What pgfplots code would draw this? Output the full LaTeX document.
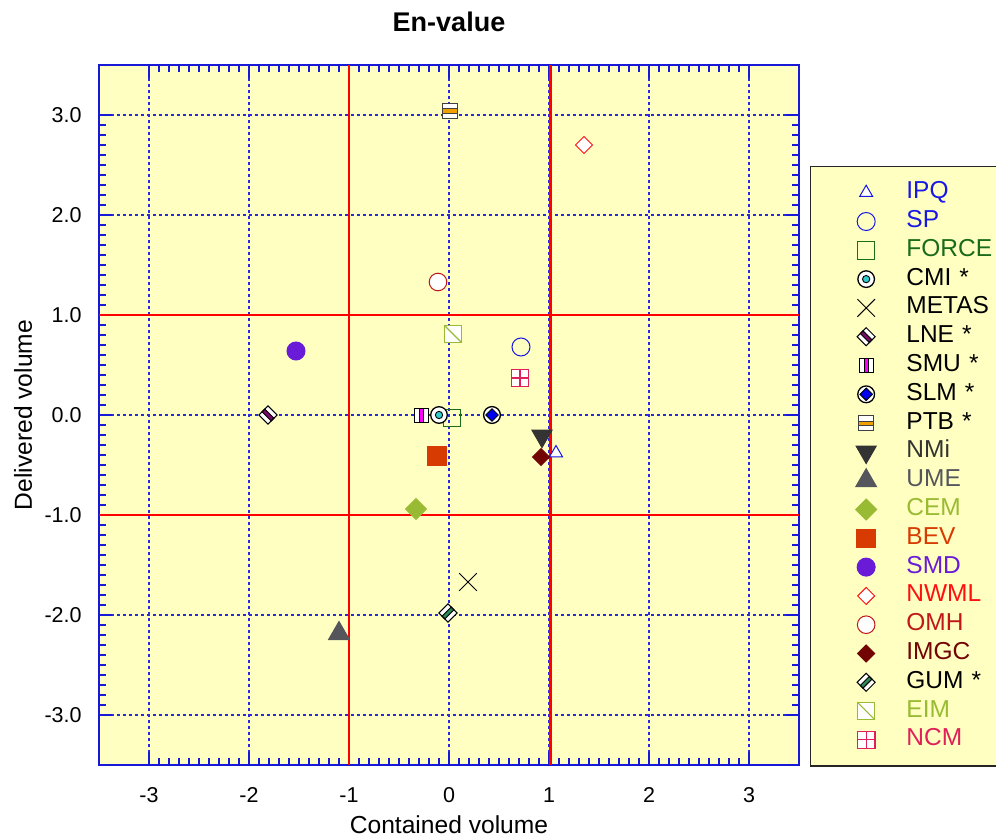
\documentclass[border=0pt]{standalone}
\usepackage{pgfplots}
\pgfplotsset{compat=1.18}
\usepackage{fontspec}
\setmainfont{Liberation Sans}
\definecolor{bgyellow}{HTML}{FFFFC2}
\definecolor{axisblue}{HTML}{1818D8}
\definecolor{gridblue}{HTML}{2828E0}
\definecolor{cIPQ}{HTML}{1818E6}
\definecolor{cFORCE}{HTML}{1A6B1A}
\definecolor{cNMi}{HTML}{333333}
\definecolor{cUME}{HTML}{55565C}
\definecolor{cCEM}{HTML}{99BB33}
\definecolor{cBEV}{HTML}{D83B01}
\definecolor{cSMD}{HTML}{6A1BD8}
\definecolor{cNWML}{HTML}{FF1010}
\definecolor{cOMH}{HTML}{C01818}
\definecolor{cIMGC}{HTML}{720404}
\definecolor{cNCM}{HTML}{E0205A}
\definecolor{cCMIdot}{HTML}{33CCCC}
\definecolor{cLNE}{HTML}{7A0A6A}
\definecolor{cSMU}{HTML}{FF00FF}
\definecolor{cSLM}{HTML}{0000F0}
\definecolor{cPTB}{HTML}{F0A000}
\definecolor{cGUM}{HTML}{2E8B57}

\pgfdeclareplotmark{cmi}{%
  \pgfsetlinewidth{0.65pt}\pgfsetstrokecolor{black}%
  \pgfpathcircle{\pgfpointorigin}{\pgfplotmarksize}%
  \pgfsetfillcolor{white}\pgfusepathqfillstroke
  \pgfsetlinewidth{0.45pt}%
  \pgfpathcircle{\pgfpointorigin}{0.44\pgfplotmarksize}%
  \pgfsetfillcolor{cCMIdot}\pgfusepathqfillstroke}
\pgfdeclareplotmark{slm}{%
  \pgfsetlinewidth{0.65pt}\pgfsetstrokecolor{black}%
  \pgfpathcircle{\pgfpointorigin}{\pgfplotmarksize}%
  \pgfsetfillcolor{white}\pgfusepathqfillstroke
  \pgfsetlinewidth{0.5pt}%
  \pgfpathmoveto{\pgfqpoint{0pt}{0.74\pgfplotmarksize}}%
  \pgfpathlineto{\pgfqpoint{0.74\pgfplotmarksize}{0pt}}%
  \pgfpathlineto{\pgfqpoint{0pt}{-0.74\pgfplotmarksize}}%
  \pgfpathlineto{\pgfqpoint{-0.74\pgfplotmarksize}{0pt}}%
  \pgfpathclose
  \pgfsetfillcolor{cSLM}\pgfusepathqfillstroke}
\pgfdeclareplotmark{smu}{%
  \pgfsetlinewidth{0.5pt}\pgfsetstrokecolor{black}%
  \pgfpathrectanglecorners{\pgfqpoint{-\pgfplotmarksize}{-\pgfplotmarksize}}{\pgfqpoint{\pgfplotmarksize}{\pgfplotmarksize}}%
  \pgfsetfillcolor{white}\pgfusepathqfill
  \pgfpathrectanglecorners{\pgfqpoint{-0.25\pgfplotmarksize}{-\pgfplotmarksize}}{\pgfqpoint{0.3\pgfplotmarksize}{\pgfplotmarksize}}%
  \pgfsetfillcolor{cSMU}\pgfusepathqfillstroke
  \pgfpathrectanglecorners{\pgfqpoint{-\pgfplotmarksize}{-\pgfplotmarksize}}{\pgfqpoint{\pgfplotmarksize}{\pgfplotmarksize}}%
  \pgfusepathqstroke}
\pgfdeclareplotmark{lne}{%
  \pgftransformrotate{45}%
  \pgfsetlinewidth{0.5pt}\pgfsetstrokecolor{black}%
  \pgfpathrectanglecorners{\pgfqpoint{-\pgfplotmarksize}{-\pgfplotmarksize}}{\pgfqpoint{\pgfplotmarksize}{\pgfplotmarksize}}%
  \pgfsetfillcolor{white}\pgfusepathqfill
  \pgfpathrectanglecorners{\pgfqpoint{-0.3\pgfplotmarksize}{-\pgfplotmarksize}}{\pgfqpoint{0.3\pgfplotmarksize}{\pgfplotmarksize}}%
  \pgfsetfillcolor{cLNE}\pgfusepathqfillstroke
  \pgfpathrectanglecorners{\pgfqpoint{-\pgfplotmarksize}{-\pgfplotmarksize}}{\pgfqpoint{\pgfplotmarksize}{\pgfplotmarksize}}%
  \pgfusepathqstroke}
\pgfdeclareplotmark{gum}{%
  \pgftransformrotate{-45}%
  \pgfsetlinewidth{0.5pt}\pgfsetstrokecolor{black}%
  \pgfpathrectanglecorners{\pgfqpoint{-\pgfplotmarksize}{-\pgfplotmarksize}}{\pgfqpoint{\pgfplotmarksize}{\pgfplotmarksize}}%
  \pgfsetfillcolor{white}\pgfusepathqfill
  \pgfpathrectanglecorners{\pgfqpoint{-0.3\pgfplotmarksize}{-\pgfplotmarksize}}{\pgfqpoint{0.3\pgfplotmarksize}{\pgfplotmarksize}}%
  \pgfsetfillcolor{cGUM}\pgfusepathqfillstroke
  \pgfpathrectanglecorners{\pgfqpoint{-\pgfplotmarksize}{-\pgfplotmarksize}}{\pgfqpoint{\pgfplotmarksize}{\pgfplotmarksize}}%
  \pgfusepathqstroke}
\pgfdeclareplotmark{ptb}{%
  \pgfsetlinewidth{0.5pt}\pgfsetstrokecolor{black!75}%
  \pgfpathrectanglecorners{\pgfqpoint{-\pgfplotmarksize}{-\pgfplotmarksize}}{\pgfqpoint{\pgfplotmarksize}{\pgfplotmarksize}}%
  \pgfsetfillcolor{white}\pgfusepathqfill
  \pgfpathrectanglecorners{\pgfqpoint{-\pgfplotmarksize}{-0.28\pgfplotmarksize}}{\pgfqpoint{\pgfplotmarksize}{0.28\pgfplotmarksize}}%
  \pgfsetfillcolor{cPTB}\pgfusepathqfillstroke
  \pgfpathrectanglecorners{\pgfqpoint{-\pgfplotmarksize}{-\pgfplotmarksize}}{\pgfqpoint{\pgfplotmarksize}{\pgfplotmarksize}}%
  \pgfusepathqstroke}
\pgfdeclareplotmark{eim}{%
  \pgfsetlinewidth{0.55pt}\pgfsetstrokecolor{cCEM}%
  \pgfpathrectanglecorners{\pgfqpoint{-\pgfplotmarksize}{-\pgfplotmarksize}}{\pgfqpoint{\pgfplotmarksize}{\pgfplotmarksize}}%
  \pgfsetfillcolor{white}\pgfusepathqfillstroke
  \pgfpathmoveto{\pgfqpoint{-\pgfplotmarksize}{\pgfplotmarksize}}%
  \pgfpathlineto{\pgfqpoint{\pgfplotmarksize}{-\pgfplotmarksize}}%
  \pgfusepathqstroke}
\pgfdeclareplotmark{ncm}{%
  \pgfsetlinewidth{0.55pt}\pgfsetstrokecolor{cNCM}%
  \pgfpathrectanglecorners{\pgfqpoint{-\pgfplotmarksize}{-\pgfplotmarksize}}{\pgfqpoint{\pgfplotmarksize}{\pgfplotmarksize}}%
  \pgfsetfillcolor{white}\pgfusepathqfillstroke
  \pgfpathmoveto{\pgfqpoint{0pt}{\pgfplotmarksize}}%
  \pgfpathlineto{\pgfqpoint{0pt}{-\pgfplotmarksize}}%
  \pgfpathmoveto{\pgfqpoint{-\pgfplotmarksize}{0pt}}%
  \pgfpathlineto{\pgfqpoint{\pgfplotmarksize}{0pt}}%
  \pgfusepathqstroke}

\begin{document}
\begin{tikzpicture}
\path[use as bounding box] (-49.5pt,-35.5pt) rectangle (448.5pt,382.5pt);
\begin{axis}[
  at={(0,0)}, anchor=south west,
  scale only axis, width=350pt, height=350pt,
  xmin=-3.5, xmax=3.5, ymin=-3.5, ymax=3.5,
  axis background/.style={fill=bgyellow},
  axis line style={draw=axisblue, line width=0.8pt},
  xtick={-3,-2,-1,0,1,2,3}, ytick={-3,-2,-1,0,1,2,3},
  xticklabels={-3,-2,-1,0,1,2,3},
  yticklabels={-3.0,-2.0,-1.0,0.0,1.0,2.0,3.0},
  minor x tick num=9, minor y tick num=9,
  tick align=inside,
  xtick pos=both, ytick pos=both,
  major tick length=6.5pt, minor tick length=3.5pt,
  every tick/.style={draw=axisblue, line width=0.7pt},
  grid=major,
  grid style={color=gridblue},
  major grid style={color=gridblue, line width=0.55pt, dash pattern=on 1.5pt off 1.5pt},
  tick label style={font=\fontsize{10.75}{12}\selectfont, text=black},
  xticklabel style={anchor=base, inner sep=0pt, yshift=-18.5pt},
  yticklabel style={anchor=east, inner sep=0pt, xshift=-8.5pt},
  title={En-value},
  every axis title/.style={at={(0.5,1)}, anchor=base, yshift=16.5pt, font=\bfseries\fontsize{13.5}{15}\selectfont},
  xlabel={Contained volume},
  ylabel={Delivered volume},
  every axis x label/.style={at={(0.5,0)}, anchor=base, yshift=-34pt, font=\fontsize{12.3}{14}\selectfont},
  every axis y label/.style={at={(0,0.5)}, xshift=-33.5pt, rotate=90, anchor=base, font=\fontsize{12.3}{14}\selectfont},
  legend cell align=left,
  legend style={
    at={(1.0157,0.8557)}, anchor=north west,
    fill=bgyellow, draw=black!85, line width=0.7pt,
    font=\fontsize{12.25}{14}\selectfont,
    inner xsep=22.5pt, inner ysep=7pt,
    row sep=2.4pt, column sep=14.9pt,
    nodes={text height=9pt, text depth=3pt, inner ysep=0pt, inner xsep=0pt, text width=60pt},
  },
  every axis plot/.append style={line width=0.5pt},
]
\draw[red, line width=1.05pt] (axis cs:-1,-3.5) -- (axis cs:-1,3.5);
\draw[red, line width=1.8pt] (axis cs:1.015,-3.5) -- (axis cs:1.015,3.5);
\draw[red, line width=1.05pt] (axis cs:-3.5,1) -- (axis cs:3.5,1);
\draw[red, line width=1.05pt] (axis cs:-3.5,-1) -- (axis cs:3.5,-1);

\addplot[only marks, mark=triangle*, mark size=3.75pt, draw=cIPQ, fill=white] coordinates {(1.07,-0.38)};
\addlegendentry{\textcolor{cIPQ}{IPQ}}
\addplot[only marks, mark=o, mark size=4.5pt, draw=cIPQ] coordinates {(0.72,0.68)};
\addlegendentry{\textcolor{cIPQ}{SP}}
\addplot[only marks, mark=square, mark size=4.4pt, draw=cFORCE] coordinates {(0.03,-0.03)};
\addlegendentry{\textcolor{cFORCE}{FORCE}}
\addplot[only marks, mark=cmi, mark size=4.15pt] coordinates {(-0.10,0.00)};
\addlegendentry{CMI *}
\addplot[only marks, mark=x, mark size=6.2pt, draw=black] coordinates {(0.19,-1.67)};
\addlegendentry{METAS}
\addplot[only marks, mark=lne, mark size=3.2pt] coordinates {(-1.81,0.00)};
\addlegendentry{LNE *}
\addplot[only marks, mark=smu, mark size=3.5pt] coordinates {(-0.28,0.00)};
\addlegendentry{SMU *}
\addplot[only marks, mark=slm, mark size=4.2pt] coordinates {(0.43,0.00)};
\addlegendentry{SLM *}
\addplot[only marks, mark=ptb, mark size=3.6pt] coordinates {(0.01,3.04)};
\addlegendentry{PTB *}
\addplot[only marks, mark=triangle*, mark size=5.8pt, color=cNMi, mark options={rotate=180}] coordinates {(0.93,-0.21)};
\addlegendentry{\textcolor{cNMi}{NMi}}
\addplot[only marks, mark=triangle*, mark size=6pt, color=cUME] coordinates {(-1.10,-2.185)};
\addlegendentry{\textcolor{cUME}{UME}}
\addplot[only marks, mark=square*, mark size=3.7pt, color=cCEM, mark options={rotate=45}] coordinates {(-0.33,-0.94)};
\addlegendentry{\textcolor{cCEM}{CEM}}
\addplot[only marks, mark=square*, mark size=4.6pt, color=cBEV] coordinates {(-0.12,-0.41)};
\addlegendentry{\textcolor{cBEV}{BEV}}
\addplot[only marks, mark=*, mark size=4.5pt, color=cSMD] coordinates {(-1.53,0.64)};
\addlegendentry{\textcolor{cSMD}{SMD}}
\addplot[only marks, mark=square*, mark size=3pt, draw=cNWML, fill=white, mark options={rotate=45}] coordinates {(1.35,2.70)};
\addlegendentry{\textcolor{cNWML}{NWML}}
\addplot[only marks, mark=*, mark size=4.4pt, draw=cOMH, fill=white] coordinates {(-0.11,1.33)};
\addlegendentry{\textcolor{cOMH}{OMH}}
\addplot[only marks, mark=square*, mark size=3pt, color=cIMGC, mark options={rotate=45}] coordinates {(0.92,-0.42)};
\addlegendentry{\textcolor{cIMGC}{IMGC}}
\addplot[only marks, mark=gum, mark size=3.2pt] coordinates {(-0.01,-1.98)};
\addlegendentry{GUM *}
\addplot[only marks, mark=eim, mark size=4.3pt] coordinates {(0.04,0.81)};
\addlegendentry{\textcolor{cCEM}{EIM}}
\addplot[only marks, mark=ncm, mark size=4.4pt] coordinates {(0.71,0.37)};
\addlegendentry{\textcolor{cNCM}{NCM}}
\end{axis}
\end{tikzpicture}
\end{document}
